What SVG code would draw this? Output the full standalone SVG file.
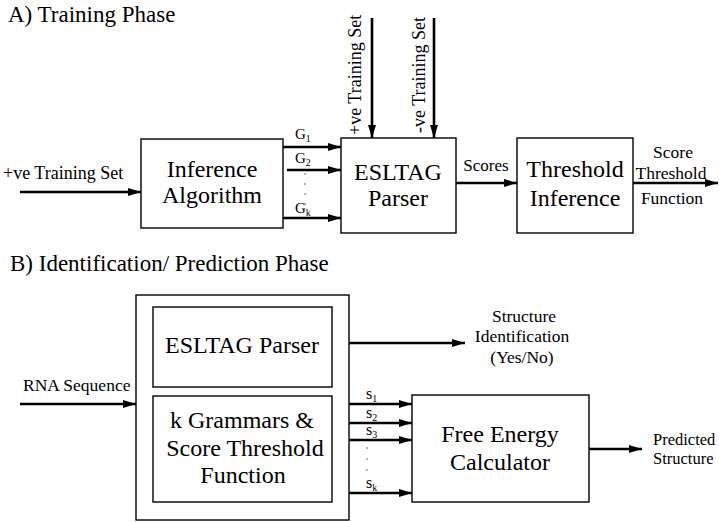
<svg xmlns="http://www.w3.org/2000/svg" width="719" height="522" viewBox="0 0 719 522">
<defs>
<marker id="ah" markerUnits="userSpaceOnUse" markerWidth="14" markerHeight="9" refX="13" refY="4" orient="auto">
<path d="M0,0 L13,4 L0,8 z" fill="#000"/>
</marker>
</defs>
<style>
text{font-family:'Liberation Serif','Times New Roman',serif;fill:#000}
.box{fill:none;stroke:#000;stroke-width:1.4}
.arr{stroke:#000;stroke-width:2.6;fill:none;marker-end:url(#ah)}
.title{font-size:23px}
.big{font-size:24px;text-anchor:middle}
.lab{font-size:17.5px}
.mid{text-anchor:middle}
.dot{fill:#555}
</style>
<rect width="719" height="522" fill="#fff"/>
<text class="title" x="8" y="22">A) Training Phase</text>
<text class="title" x="10" y="271">B) Identification/ Prediction Phase</text>
<g id="connectors">
<line class="arr" x1="20" y1="192" x2="141" y2="192"/>
<line class="arr" x1="283" y1="147" x2="341" y2="147"/>
<line class="arr" x1="287" y1="170" x2="341" y2="170"/>
<line class="arr" x1="283" y1="218" x2="341" y2="218"/>
<line class="arr" x1="372" y1="18" x2="372" y2="138"/>
<line class="arr" x1="434" y1="18" x2="434" y2="138"/>
<line class="arr" x1="456" y1="183" x2="517" y2="183"/>
<line class="arr" x1="633" y1="183" x2="718" y2="183"/>
<line class="arr" x1="20" y1="404" x2="136" y2="404"/>
<line class="arr" x1="349" y1="343" x2="465" y2="343"/>
<line class="arr" x1="349" y1="404" x2="412" y2="404"/>
<line class="arr" x1="349" y1="423" x2="412" y2="423"/>
<line class="arr" x1="349" y1="440" x2="412" y2="440"/>
<line class="arr" x1="349" y1="493" x2="412" y2="493"/>
<line class="arr" x1="589" y1="449" x2="642" y2="449"/>
<circle class="dot" cx="305" cy="174" r="0.8"/>
<circle class="dot" cx="305" cy="184" r="0.8"/>
<circle class="dot" cx="305" cy="194" r="0.8"/>
<circle class="dot" cx="305" cy="204" r="0.8"/>
<circle class="dot" cx="367" cy="448" r="0.8"/>
<circle class="dot" cx="367" cy="459" r="0.8"/>
<circle class="dot" cx="367" cy="470" r="0.8"/>
</g>
<g id="labels">
<text class="lab" x="3" y="179" style="font-size:18px">+ve Training Set</text>
<text class="lab" x="295" y="139" style="font-size:15px">G<tspan dy="3" style="font-size:10px">1</tspan></text>
<text class="lab" x="295" y="163" style="font-size:15px">G<tspan dy="3" style="font-size:10px">2</tspan></text>
<text class="lab" x="295" y="213" style="font-size:15px">G<tspan dy="3" style="font-size:10px">k</tspan></text>
<text class="lab" transform="translate(361,135) rotate(-90)" style="font-size:18px">+ve Training Set</text>
<text class="lab" transform="translate(425,133) rotate(-90)" style="font-size:18px">-ve Training Set</text>
<text class="lab" x="486" y="171" text-anchor="middle" style="font-size:17px">Scores</text>
<text class="lab mid" x="673" y="158">Score</text>
<text class="lab mid" x="671" y="179">Threshold</text>
<text class="lab mid" x="672" y="204">Function</text>
<text class="lab" x="23" y="391">RNA Sequence</text>
<text class="lab mid" x="524" y="322">Structure</text>
<text class="lab mid" x="522" y="342">Identification</text>
<text class="lab mid" x="522" y="363">(Yes/No)</text>
<text class="lab" x="366" y="399" style="font-size:16px">s<tspan dy="3" style="font-size:10px">1</tspan></text>
<text class="lab" x="366" y="418" style="font-size:16px">s<tspan dy="3" style="font-size:10px">2</tspan></text>
<text class="lab" x="366" y="435" style="font-size:16px">s<tspan dy="3" style="font-size:10px">3</tspan></text>
<text class="lab" x="366" y="488" style="font-size:16px">s<tspan dy="3" style="font-size:10px">k</tspan></text>
<text class="lab" x="653" y="445" style="font-size:16.5px">Predicted</text>
<text class="lab" x="653" y="464" style="font-size:16.5px">Structure</text>
</g>
<g id="inference">
<rect class="box" x="141" y="139" width="142" height="89"/>
<text class="big" x="212" y="177">Inference</text>
<text class="big" x="212" y="203">Algorithm</text>
</g>
<g id="esltag-train">
<rect class="box" x="341" y="138" width="115" height="95"/>
<text class="big" x="398" y="180">ESLTAG</text>
<text class="big" x="398" y="206">Parser</text>
</g>
<g id="threshold">
<rect class="box" x="517" y="138" width="116" height="95"/>
<text class="big" x="575" y="177">Threshold</text>
<text class="big" x="575" y="206">Inference</text>
</g>
<g id="outer">
<rect class="box" x="136" y="295" width="213" height="225"/>
</g>
<g id="esltag-id">
<rect class="box" x="153" y="307" width="179" height="80"/>
<text class="big" x="242" y="353">ESLTAG Parser</text>
</g>
<g id="grammars">
<rect class="box" x="153" y="396" width="179" height="106"/>
<text class="big" x="242" y="428">k Grammars &amp;</text>
<text class="big" x="245" y="456">Score Threshold</text>
<text class="big" x="243" y="483">Function</text>
</g>
<g id="free-energy">
<rect class="box" x="412" y="395" width="177" height="107"/>
<text class="big" x="500" y="442">Free Energy</text>
<text class="big" x="500" y="470">Calculator</text>
</g>
</svg>
